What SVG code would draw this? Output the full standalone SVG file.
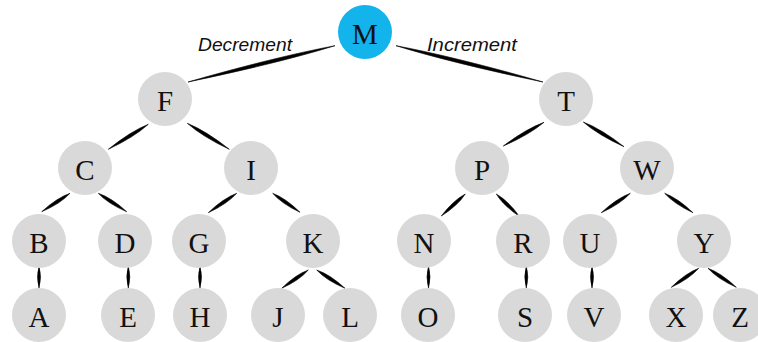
<svg xmlns="http://www.w3.org/2000/svg" width="758" height="342" viewBox="0 0 758 342">
<style>
.n circle{fill:#d9d9d9}
.n.root circle{fill:#13b3ec}
.n text{font-family:"Liberation Serif","Times New Roman",serif;font-size:29px;fill:#111;text-anchor:middle}
.e path{fill:#000;stroke:#000;stroke-width:0.6;stroke-linejoin:round}
.lbl{font-family:"Liberation Sans",Arial,sans-serif;font-style:italic;font-size:19px;fill:#111}
</style>
<rect width="758" height="342" fill="#fff"/>
<g id="connectors" class="e">
<path d="M335,45.7 Q275.4,56.9 188,82 Q277,63.5 335,45.7Z"/>
<path d="M396,45.7 Q454,63.5 543,82 Q455.6,56.9 396,45.7Z"/>
<path d="M148.3,124.3 Q130.5,131.4 108.3,149.3 Q134.1,137.2 148.3,124.3Z"/>
<path d="M187.3,123.3 Q202.3,136.6 229.3,149.3 Q205.9,130.8 187.3,123.3Z"/>
<path d="M544,122.3 Q526,128.9 503.3,146 Q529.4,134.7 544,122.3Z"/>
<path d="M583.3,122 Q597.8,134.8 624,146.7 Q601.4,129 583.3,122Z"/>
<path d="M70,193.3 Q56.9,197.9 41.7,211.7 Q60.6,203.6 70,193.3Z"/>
<path d="M98.3,193.3 Q107.9,203.6 126.7,211.7 Q111.6,197.8 98.3,193.3Z"/>
<path d="M236.7,193.3 Q223.4,198.3 208.3,212.7 Q227.2,203.9 236.7,193.3Z"/>
<path d="M272.7,193.3 Q281.7,203.7 300,212.3 Q285.5,198.1 272.7,193.3Z"/>
<path d="M465.3,194 Q453.4,200.3 441.3,216 Q458,205.3 465.3,194Z"/>
<path d="M496.3,194 Q503.3,205.5 519.7,216.7 Q508.1,200.7 496.3,194Z"/>
<path d="M630.3,193.3 Q616.8,198.3 601.3,212.7 Q620.6,203.9 630.3,193.3Z"/>
<path d="M664.7,193.3 Q674.1,203.9 693,212.7 Q677.9,198.3 664.7,193.3Z"/>
<path d="M39,266 Q36,277 39,288 Q42,277 39,266Z"/>
<path d="M128.3,266 Q125.3,277 128.3,288 Q131.3,277 128.3,266Z"/>
<path d="M200,266 Q197,277 200,288 Q203,277 200,266Z"/>
<path d="M428.5,266 Q425.5,277 428.5,288 Q431.5,277 428.5,266Z"/>
<path d="M526.3,266 Q523.3,277 526.3,288 Q529.3,277 526.3,266Z"/>
<path d="M592,266 Q589,277 592,288 Q595,277 592,266Z"/>
<path d="M308.3,270 Q295.8,274.5 281.7,288.3 Q299.6,280.1 308.3,270Z"/>
<path d="M316.7,270 Q326.2,280.2 345,288.3 Q329.9,274.4 316.7,270Z"/>
<path d="M698.7,268.3 Q685.8,273.1 671.3,287.3 Q689.6,278.7 698.7,268.3Z"/>
<path d="M708,268.3 Q717.4,278.7 736.3,287.3 Q721.2,273.1 708,268.3Z"/>
</g>
<text class="lbl" x="198" y="50.5" textLength="94" lengthAdjust="spacingAndGlyphs">Decrement</text>
<text class="lbl" x="427" y="50.5" textLength="90" lengthAdjust="spacingAndGlyphs">Increment</text>
<g id="node-M" class="n root"><circle cx="365" cy="32" r="27"/><text x="365" y="44">M</text></g>
<g id="node-F" class="n"><circle cx="165" cy="99" r="27"/><text x="165" y="111">F</text></g>
<g id="node-T" class="n"><circle cx="566" cy="99" r="27"/><text x="566" y="111">T</text></g>
<g id="node-C" class="n"><circle cx="85" cy="168" r="27"/><text x="85" y="180">C</text></g>
<g id="node-I" class="n"><circle cx="251" cy="168" r="27"/><text x="251" y="180">I</text></g>
<g id="node-P" class="n"><circle cx="482" cy="168" r="27"/><text x="482" y="180">P</text></g>
<g id="node-W" class="n"><circle cx="647" cy="168" r="27"/><text x="647" y="180">W</text></g>
<g id="node-B" class="n"><circle cx="39" cy="241" r="27"/><text x="39" y="253">B</text></g>
<g id="node-D" class="n"><circle cx="125" cy="241" r="27"/><text x="125" y="253">D</text></g>
<g id="node-G" class="n"><circle cx="199" cy="241" r="27"/><text x="199" y="253">G</text></g>
<g id="node-K" class="n"><circle cx="313" cy="241" r="27"/><text x="313" y="253">K</text></g>
<g id="node-N" class="n"><circle cx="424" cy="241" r="27"/><text x="424" y="253">N</text></g>
<g id="node-R" class="n"><circle cx="523" cy="241" r="27"/><text x="523" y="253">R</text></g>
<g id="node-U" class="n"><circle cx="590" cy="241" r="27"/><text x="590" y="253">U</text></g>
<g id="node-Y" class="n"><circle cx="704" cy="241" r="27"/><text x="704" y="253">Y</text></g>
<g id="node-A" class="n"><circle cx="39" cy="315" r="27"/><text x="39" y="327">A</text></g>
<g id="node-E" class="n"><circle cx="128" cy="315" r="27"/><text x="128" y="327">E</text></g>
<g id="node-H" class="n"><circle cx="200" cy="315" r="27"/><text x="200" y="327">H</text></g>
<g id="node-J" class="n"><circle cx="278" cy="315" r="27"/><text x="278" y="327">J</text></g>
<g id="node-L" class="n"><circle cx="350" cy="315" r="27"/><text x="350" y="327">L</text></g>
<g id="node-O" class="n"><circle cx="428" cy="315" r="27"/><text x="428" y="327">O</text></g>
<g id="node-S" class="n"><circle cx="525" cy="315" r="27"/><text x="525" y="327">S</text></g>
<g id="node-V" class="n"><circle cx="594" cy="315" r="27"/><text x="594" y="327">V</text></g>
<g id="node-X" class="n"><circle cx="676" cy="315" r="27"/><text x="676" y="327">X</text></g>
<g id="node-Z" class="n"><circle cx="740" cy="315" r="27"/><text x="740" y="327">Z</text></g>
</svg>
